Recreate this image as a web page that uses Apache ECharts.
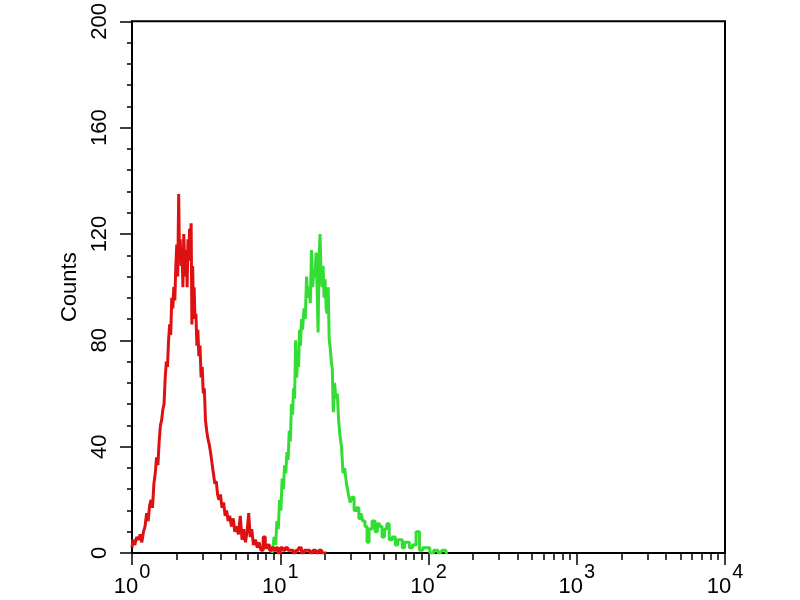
<!DOCTYPE html>
<html>
<head>
<meta charset="utf-8">
<script src="https://cdn.jsdelivr.net/npm/echarts@6/dist/echarts.min.js"></script>
<style>
html,body{margin:0;padding:0;background:#fff;}
#chart{width:800px;height:600px;}
</style>
</head>
<body>
<div id="chart"></div>
<script>
// ---- data ----
// Red histogram (control): fluorescence value, counts
const redX = [1.00,1.03,1.06,1.09,1.12,1.15,1.18,1.21,1.24,1.27,1.30,1.33,1.36,1.39,1.42,1.45,1.48,1.51,1.54,1.57,1.60,1.63,1.66,1.69,1.72,1.75,1.78,1.81,1.84,1.87,1.90,1.93,1.96,1.99,2.02,2.05,2.08,2.10,2.13,2.16,2.19,2.22,2.25,2.28,2.31,2.34,2.37,2.40,2.43,2.46,2.49,2.52,2.55,2.58,2.61,2.64,2.68,2.72,2.76,2.80,2.85,2.90,2.95,3.00,3.05,3.10,3.16,3.22,3.28,3.35,3.42,3.50,3.58,3.66,3.74,3.82,3.90,4.00,4.10,4.20,4.30,4.40,4.50,4.62,4.75,4.88,5.00,5.15,5.30,5.45,5.60,5.75,5.90,6.05,6.20,6.35,6.50,6.70,6.90,7.10,7.30,7.55,7.80,8.05,8.30,8.60,8.90,9.20,9.50,9.80,10.2,10.6,11.0,11.5,12.0,12.5,13.0,13.6,14.2,14.8,15.5,16.2,17.0,17.8,18.6,19.5,20.5];
const redY = [2,5,3,6,5,7,4,8,10,15,12,18,20,17,26,30,36,33,42,48,50,54,56,66,72,70,80,86,82,96,92,100,95,108,116,104,135,112,118,108,114,100,120,110,104,114,100,118,110,122,116,124,86,108,92,100,88,90,78,84,74,78,66,70,60,62,50,46,43,41,38,34,30,26,27,22,20,22,17,19,14,16,12,14,10,13,8,10,7,14,5,9,4,8,15,6,9,3,5,2,4,1,6,2,3,1,2,1,2,0,2,1,2,1,1,0,1,2,0,1,1,0,1,0,1,0,0];
// Green histogram (stained): fluorescence value, counts
const greenX = [8.8,9.0,9.2,9.4,9.6,9.8,10.0,10.2,10.4,10.6,10.8,11.0,11.2,11.4,11.6,11.8,12.0,12.2,12.4,12.6,12.8,13.0,13.2,13.4,13.6,13.8,14.0,14.3,14.6,14.9,15.2,15.5,15.8,16.1,16.4,16.7,17.0,17.3,17.6,17.9,18.1,18.4,18.7,19.0,19.3,19.6,19.9,20.2,20.6,20.9,21.2,21.6,21.9,22.3,22.6,23.0,23.5,24.0,24.5,25.0,25.6,26.2,26.8,27.5,28.5,29.2,30.0,31.0,32.0,33.3,34.5,35.5,36.6,38.0,39.0,40.5,42.8,44.5,46.0,47.7,49.5,51.5,53.2,55.5,58.4,61.0,63.0,65.1,68.0,70.0,72.6,76.0,80.0,84.9,88.9,94.0,99.2,105,112,120,127,135];
const greenY = [0,2,6,3,12,9,20,16,28,24,33,30,38,35,46,42,56,52,62,58,80,66,72,70,84,78,88,84,92,88,104,96,100,94,114,100,106,104,113,98,83,110,120,104,100,108,96,103,92,90,100,80,77,72,69,53,64,58,60,50,44,40,30,32,26,22,19,21,16,17,13,15,12,10,4,9,12,8,11,10,6,9,11,5,6,3,5,5,2,4,4,2,3,8,1,2,2,0,1,0,1,0];
// axis ticks
const yTicks = [0,40,80,120,160,200];
const xExponents = [0,1,2,3,4];          // tick labels 10^n
const xMinorMultipliers = [2,3,4,5,6,7,8,9];

// ---- build ----
const STEPS = 1000;
const nDec = xExponents.length - 1;
const catData = Array.from({length: nDec * STEPS + 1}, (_, i) => String(i));
const minorSet = new Set();
for (let n = 0; n < nDec; n++) {
  xMinorMultipliers.forEach(m => minorSet.add(Math.round((n + Math.log10(m)) * STEPS)));
}
const zip = (a, b) => a.map((v, i) => [v, b[i]]);
const FONT = 'Liberation Sans, Arial, sans-serif';

const chart = echarts.init(document.getElementById('chart'), null, {renderer: 'canvas'});
chart.setOption({
  animation: false,
  backgroundColor: '#fff',
  grid: {left: 132, right: 75, top: 21, bottom: 47, show: true, borderColor: '#000', borderWidth: 2, backgroundColor: 'transparent'},
  xAxis: [
    {type: 'log', logBase: 10, min: Math.pow(10, xExponents[0]), max: Math.pow(10, xExponents[nDec]), show: false},
    {type: 'category', data: catData, boundaryGap: false, position: 'bottom',
      axisLine: {show: true, lineStyle: {color: '#000', width: 2}},
      axisTick: {show: true, interval: (i) => minorSet.has(i), length: 7, lineStyle: {color: '#000', width: 1.5}},
      axisLabel: {show: false}, splitLine: {show: false}},
    {type: 'category', data: catData, boundaryGap: false, position: 'bottom',
      axisLine: {show: false},
      axisTick: {show: true, interval: (i) => i % STEPS === 0, length: 12, lineStyle: {color: '#000', width: 1.5}},
      axisLabel: {show: true, interval: (i) => i % STEPS === 0, margin: 16,
        formatter: (v) => '{b|10}{s|' + xExponents[Number(v) / STEPS] + '}',
        rich: {
          b: {fontSize: 22, fontFamily: FONT, color: '#000', lineHeight: 22, padding: [14, 0, 0, 0]},
          s: {fontSize: 20, fontFamily: FONT, color: '#000', lineHeight: 20, padding: [0, 0, 16, 1]}
        }},
      splitLine: {show: false}}
  ],
  yAxis: {
    type: 'value', min: yTicks[0], max: yTicks[yTicks.length - 1], interval: yTicks[1] - yTicks[0],
    name: 'Counts', nameLocation: 'middle', nameGap: 45, nameRotate: 90,
    nameTextStyle: {fontSize: 22, color: '#000', fontFamily: FONT},
    axisLine: {show: true, lineStyle: {color: '#000', width: 2}},
    axisTick: {show: true, length: 12, lineStyle: {color: '#000', width: 1.5}},
    minorTick: {show: true, splitNumber: 5, length: 5, lineStyle: {color: '#000', width: 1.5}},
    axisLabel: {rotate: 90, fontSize: 22, color: '#000', fontFamily: FONT, margin: 21},
    splitLine: {show: false}, minorSplitLine: {show: false}
  },
  series: [
    {type: 'line', name: 'control', xAxisIndex: 0, data: zip(redX, redY), step: 'middle', symbol: 'none',
      lineStyle: {color: '#dd1111', width: 3}, z: 3},
    {type: 'line', name: 'stained', xAxisIndex: 0, data: zip(greenX, greenY), step: 'middle', symbol: 'none',
      lineStyle: {color: '#33dd33', width: 3}, z: 2}
  ]
});
</script>
</body>
</html>
